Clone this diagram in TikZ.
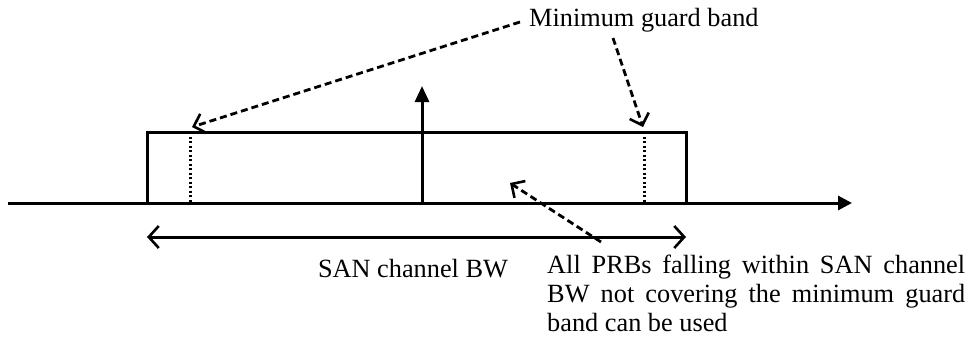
\documentclass[tikz,border=0pt]{standalone}
\usepackage{fontspec}
\setmainfont{Liberation Serif}
\usetikzlibrary{arrows.meta}
\begin{document}
\begin{tikzpicture}[x=1pt,y=-1pt,
  solidline/.style={line width=3pt},
  dashline/.style={line width=2.8pt,dash pattern=on 7pt off 4pt,-{Straight Barb[length=10pt,width=20pt,line width=2.6pt]}},
  dotline/.style={line width=3pt,dash pattern=on 2.2pt off 2.3pt},
  lbl/.style={font=\fontsize{26.3}{29}\selectfont,inner sep=0pt}]
\useasboundingbox (0,0) rectangle (966,341);
% axis
\coordinate (axL) at (8,203);
\coordinate (axR) at (852,203);
\draw[solidline,-{Triangle[length=14pt,width=14pt]}] (axL) -- (axR);
% box
\coordinate (bl) at (147,203);
\coordinate (tl) at (147,132);
\coordinate (tr) at (686,132);
\coordinate (br) at (686,203);
\draw[solidline] (bl) -- (tl) -- (tr) -- (br);
% guard lines
\coordinate (g1t) at (190,132); \coordinate (g1b) at (190,203);
\coordinate (g2t) at (644,132); \coordinate (g2b) at (644,203);
\draw[dotline] (g1t) -- (g1b);
\draw[dotline] (g2t) -- (g2b);
% center arrow
\coordinate (c0) at (422,203);
\coordinate (c1) at (422,86);
\draw[solidline,-{Triangle[length=16pt,width=14pt]}] (c0) -- (c1);
% BW arrow
\coordinate (wl) at (147,237);
\coordinate (wr) at (686,237);
\draw[solidline,{Straight Barb[length=10pt,width=22pt,line width=2.6pt]}-{Straight Barb[length=10pt,width=22pt,line width=2.6pt]}] (wl) -- (wr);
% texts
\node[lbl,anchor=west] (mgb) at (529,20) {Minimum guard band};
\node[lbl,anchor=base] (san) at (413,277) {SAN channel BW};
\node[lbl,anchor=north west,align=left] (prb) at (547,255) {\makebox[418pt][s]{All PRBs falling within SAN channel}\\ \makebox[418pt][s]{BW not covering the minimum guard}\\ band can be used};
% dashed arrows
\coordinate (d1s) at (520,22);
\coordinate (d1e) at (192,127);
\coordinate (d2s) at (613,38);
\coordinate (d2e) at (643,127);
\coordinate (d3s) at (601,242);
\coordinate (d3e) at (510,183);
\draw[dashline] (d1s) -- (d1e);
\draw[dashline] (d2s) -- (d2e);
\draw[dashline] (d3s) -- (d3e);
\end{tikzpicture}
\end{document}
